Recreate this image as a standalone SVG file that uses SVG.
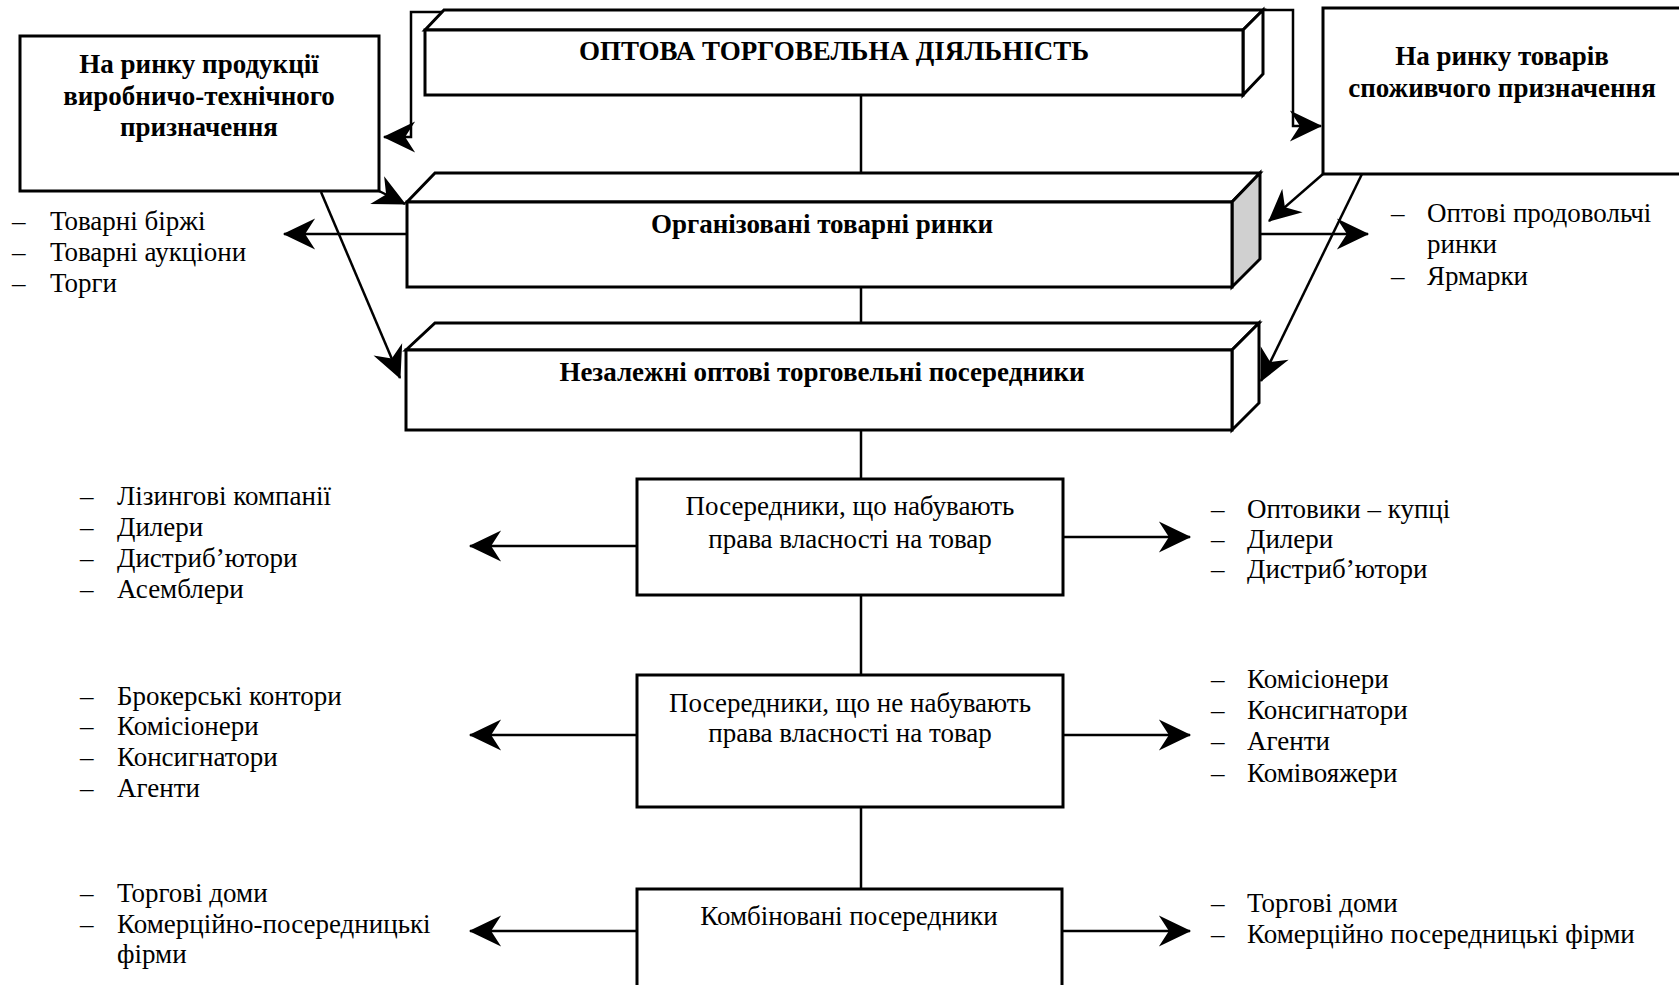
<svg xmlns="http://www.w3.org/2000/svg" width="1679" height="985" viewBox="0 0 1679 985">
<defs>
<marker id="arr" markerUnits="userSpaceOnUse" markerWidth="40" markerHeight="40" viewBox="-32 -16 36 32" refX="0" refY="0" orient="auto">
<path d="M1,0 L-28,-14 L-19,0 L-28,14 Z" fill="#000"/>
</marker>
<style>
.box{fill:#fff;stroke:#000;stroke-width:3;stroke-linejoin:miter}
.side{fill:#fff;stroke:#000;stroke-width:3;stroke-linejoin:miter}
.grey{fill:#d0d0d0;stroke:#000;stroke-width:3;stroke-linejoin:miter}
.ln{fill:none;stroke:#000;stroke-width:2.5}
.ar{fill:none;stroke:#000;stroke-width:2.5;marker-end:url(#arr)}
.t{font-family:"Liberation Serif","Times New Roman",serif;font-size:27px;fill:#000}
.b{font-family:"Liberation Serif","Times New Roman",serif;font-size:27px;font-weight:bold;fill:#000}
.c{text-anchor:middle}
</style>
</defs>
<rect width="1679" height="985" fill="#fff"/>
<g id="connectors">
<polyline class="ar" points="442,12 411,12 411,137 384,137"/>
<polyline class="ar" points="1263,10 1293,10 1293,126 1321,126"/>
<line class="ar" x1="379" y1="191" x2="405" y2="204"/>
<line class="ar" x1="321" y1="192" x2="400" y2="378"/>
<line class="ar" x1="407" y1="234" x2="284" y2="234"/>
<line class="ar" x1="1323" y1="174" x2="1269" y2="221"/>
<line class="ar" x1="1260" y1="234" x2="1368" y2="234"/>
<line class="ar" x1="1362" y1="174" x2="1261" y2="381"/>
<line class="ln" x1="861" y1="95" x2="861" y2="173"/>
<line class="ln" x1="861" y1="287" x2="861" y2="323"/>
<line class="ln" x1="861" y1="430" x2="861" y2="479"/>
<line class="ln" x1="861" y1="595" x2="861" y2="675"/>
<line class="ln" x1="861" y1="807" x2="861" y2="889"/>
<line class="ar" x1="637" y1="546" x2="470" y2="546"/>
<line class="ar" x1="1063" y1="537" x2="1190" y2="537"/>
<line class="ar" x1="637" y1="735" x2="470" y2="735"/>
<line class="ar" x1="1063" y1="735" x2="1190" y2="735"/>
<line class="ar" x1="637" y1="931" x2="470" y2="931"/>
<line class="ar" x1="1062" y1="931" x2="1190" y2="931"/>
</g>
<g id="node-top">
<polygon class="side" points="425,30 444,10 1263,10 1243,30"/>
<polygon class="side" points="1243,30 1263,10 1263,74 1243,95"/>
<rect class="box" x="425" y="30" width="818" height="65"/>
<text class="b c" x="834" y="60">ОПТОВА ТОРГОВЕЛЬНА ДІЯЛЬНІСТЬ</text>
</g>
<g id="node-left">
<rect class="box" x="20" y="36" width="359" height="155"/>
<text class="b c" x="199" y="73">На ринку продукції</text>
<text class="b c" x="199" y="105">виробничо-технічного</text>
<text class="b c" x="199" y="136">призначення</text>
</g>
<g id="node-right">
<rect class="box" x="1323" y="8" width="360" height="166"/>
<text class="b c" x="1502" y="65">На ринку товарів</text>
<text class="b c" x="1502" y="97">споживчого призначення</text>
</g>
<g id="node-organized">
<polygon class="side" points="407,202 435,173 1260,173 1232,202"/>
<polygon class="grey" points="1232,202 1260,173 1260,259 1232,287"/>
<rect class="box" x="407" y="202" width="825" height="85"/>
<text class="b c" x="822" y="233">Організовані товарні ринки</text>
</g>
<g id="node-independent">
<polygon class="side" points="406,350 435,323 1259,323 1232,350"/>
<polygon class="side" points="1232,350 1259,323 1259,403 1232,430"/>
<rect class="box" x="406" y="350" width="826" height="80"/>
<text class="b c" x="822" y="381">Незалежні оптові торговельні посередники</text>
</g>
<g id="node-own">
<rect class="box" x="637" y="479" width="426" height="116"/>
<text class="t c" x="850" y="515">Посередники, що набувають</text>
<text class="t c" x="850" y="548">права власності на товар</text>
</g>
<g id="node-notown">
<rect class="box" x="637" y="675" width="426" height="132"/>
<text class="t c" x="850" y="712">Посередники, що не набувають</text>
<text class="t c" x="850" y="742">права власності на товар</text>
</g>
<g id="node-combined">
<rect class="box" x="637" y="889" width="425" height="110"/>
<text class="t c" x="849" y="925">Комбіновані посередники</text>
</g>
<g id="list-org-left">
<text class="t" x="12" y="230">–</text><text class="t" x="50" y="230">Товарні біржі</text>
<text class="t" x="12" y="261">–</text><text class="t" x="50" y="261">Товарні аукціони</text>
<text class="t" x="12" y="292">–</text><text class="t" x="50" y="292">Торги</text>
</g>
<g id="list-org-right">
<text class="t" x="1391" y="222">–</text><text class="t" x="1427" y="222">Оптові продовольчі</text>
<text class="t" x="1427" y="253">ринки</text>
<text class="t" x="1391" y="285">–</text><text class="t" x="1427" y="285">Ярмарки</text>
</g>
<g id="list-own-left">
<text class="t" x="80" y="505">–</text><text class="t" x="117" y="505">Лізингові компанії</text>
<text class="t" x="80" y="536">–</text><text class="t" x="117" y="536">Дилери</text>
<text class="t" x="80" y="567">–</text><text class="t" x="117" y="567">Дистриб’ютори</text>
<text class="t" x="80" y="598">–</text><text class="t" x="117" y="598">Асемблери</text>
</g>
<g id="list-own-right">
<text class="t" x="1211" y="518">–</text><text class="t" x="1247" y="518">Оптовики – купці</text>
<text class="t" x="1211" y="548">–</text><text class="t" x="1247" y="548">Дилери</text>
<text class="t" x="1211" y="578">–</text><text class="t" x="1247" y="578">Дистриб’ютори</text>
</g>
<g id="list-notown-left">
<text class="t" x="80" y="705">–</text><text class="t" x="117" y="705">Брокерські контори</text>
<text class="t" x="80" y="735">–</text><text class="t" x="117" y="735">Комісіонери</text>
<text class="t" x="80" y="766">–</text><text class="t" x="117" y="766">Консигнатори</text>
<text class="t" x="80" y="797">–</text><text class="t" x="117" y="797">Агенти</text>
</g>
<g id="list-notown-right">
<text class="t" x="1211" y="688">–</text><text class="t" x="1247" y="688">Комісіонери</text>
<text class="t" x="1211" y="719">–</text><text class="t" x="1247" y="719">Консигнатори</text>
<text class="t" x="1211" y="750">–</text><text class="t" x="1247" y="750">Агенти</text>
<text class="t" x="1211" y="782">–</text><text class="t" x="1247" y="782">Комівояжери</text>
</g>
<g id="list-combined-left">
<text class="t" x="80" y="902">–</text><text class="t" x="117" y="902">Торгові доми</text>
<text class="t" x="80" y="933">–</text><text class="t" x="117" y="933">Комерційно-посередницькі</text>
<text class="t" x="117" y="963">фірми</text>
</g>
<g id="list-combined-right">
<text class="t" x="1211" y="912">–</text><text class="t" x="1247" y="912">Торгові доми</text>
<text class="t" x="1211" y="943">–</text><text class="t" x="1247" y="943">Комерційно посередницькі фірми</text>
</g>
</svg>
